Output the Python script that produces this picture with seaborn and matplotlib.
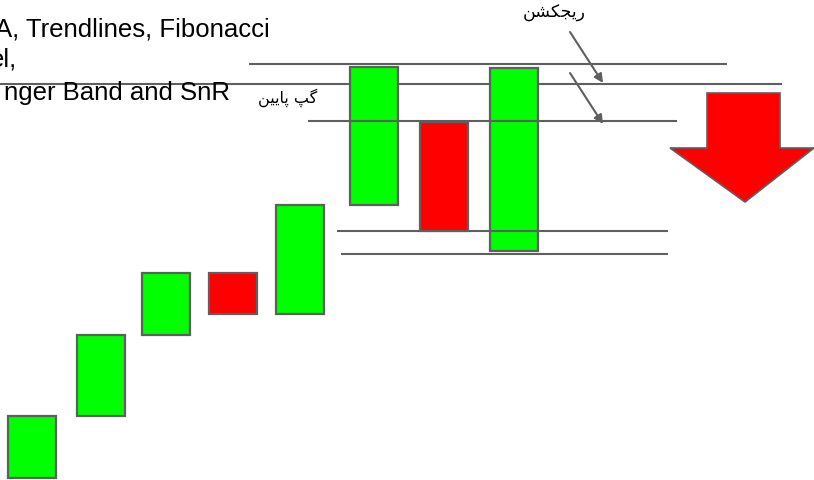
import matplotlib
matplotlib.use("Agg")
import matplotlib.pyplot as plt
import seaborn as sns

# candles: left / right edge, top / bottom (picture units, y grows downwards)
candle_left = [8, 77, 142, 209, 276, 350, 420, 490]
candle_right = [56, 125, 190, 257, 324, 398, 468, 538]
candle_top = [416, 335, 273, 273, 205, 67, 122, 68]
candle_bottom = [478, 416, 335, 314, 314, 205, 231, 251]
candle_kind = ["up", "up", "up", "down", "up", "up", "down", "up"]

# horizontal levels: y, x start, x end, drawn over candles?
level_y = [64, 84, 121, 231, 254]
level_x0 = [249, 0, 308, 337, 341]
level_x1 = [727, 782, 677, 668, 668]
level_front = [False, False, True, True, True]

# pointer arrows from the label to the levels
pointer_from = [(570, 32), (570, 73)]
pointer_to = [(603, 83), (603, 124)]

# big down arrow outline
big_arrow_x = [707, 780, 780, 814, 745, 670, 707]
big_arrow_y = [93, 93, 148, 148, 202, 148, 148]

text_lines = ["A, Trendlines, Fibonacci", "el,", "nger Band and SnR"]
text_right = [270, 17, 230]
text_base = [37, 67, 100]

# Persian labels in visual (presentation-form) order
label_rejection = "\uFEE6\uFEB8\uFB91\uFEA0\uFBFE\uFEAD"
label_gap = "\uFEE6\uFBFF\uFBFE\uFE8E\uFB58 \uFB57\uFB94"

sns.set_theme(style="white")
plt.rcParams["font.family"] = ["Liberation Sans", "DejaVu Sans"]

colors = {"up": "#00ff00", "down": "#ff0000"}
edge = "#5f5f5f"

fig = plt.figure(figsize=(8.14, 4.8), dpi=100)
ax = fig.add_axes([0, 0, 1, 1])
ax.set_xlim(0, 814)
ax.set_ylim(480, 0)
ax.axis("off")

for y, x0, x1, front in zip(level_y, level_x0, level_x1, level_front):
    ax.hlines(y, x0, x1, color=edge, lw=1.5, zorder=3 if front else 1)

centers = [(l + r) / 2 for l, r in zip(candle_left, candle_right)]
widths = [r - l for l, r in zip(candle_left, candle_right)]
heights = [b - t for t, b in zip(candle_top, candle_bottom)]
ax.bar(centers, heights, width=widths, bottom=candle_top,
       color=[colors[k] for k in candle_kind], edgecolor=edge,
       linewidth=1.6, zorder=2)

ax.fill(big_arrow_x, big_arrow_y, facecolor="#ff0000", edgecolor=edge,
        linewidth=1.2, zorder=2)

for p0, p1 in zip(pointer_from, pointer_to):
    ax.annotate("", xy=p1, xytext=p0,
                arrowprops=dict(arrowstyle="-|>", color=edge, lw=1.5,
                                mutation_scale=13, shrinkA=0, shrinkB=0),
                zorder=4)

for s, xr, yb in zip(text_lines, text_right, text_base):
    ax.text(xr, yb, s, ha="right", va="baseline", fontsize=18.5,
            color="black", zorder=5)

ax.text(554, 13, label_rejection, ha="center", va="center", fontsize=12.5,
        family=["DejaVu Sans"], color="black")
ax.text(288, 98, label_gap, ha="center", va="center", fontsize=11.5,
        family=["DejaVu Sans"], color="black")

fig.savefig("out.png", dpi=100)
